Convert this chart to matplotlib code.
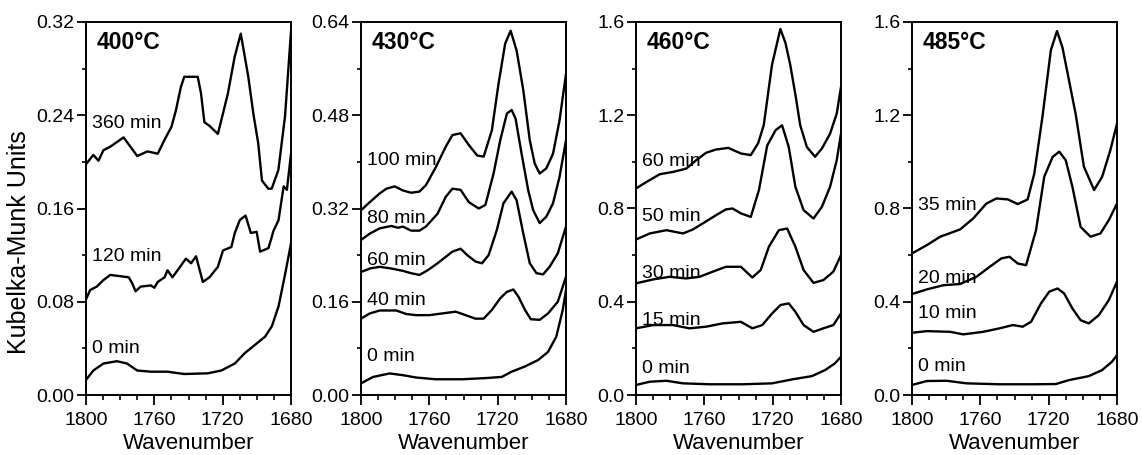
import matplotlib
matplotlib.use("Agg")
import matplotlib.pyplot as plt
from matplotlib.ticker import MultipleLocator, FormatStrFormatter

# ---- 400 C ----
wn_400_360 = [1800, 1795.7, 1792.7, 1789.8, 1785.8, 1781.9, 1778, 1774, 1770, 1764, 1758, 1754, 1750,
              1747.4, 1744.5, 1742.5, 1734.6, 1732.7, 1730.7, 1727.8, 1722.8, 1719.9, 1716.9, 1713,
              1709.4, 1705, 1702, 1699.2, 1697, 1693.3, 1691.3, 1687.4, 1683.5, 1680]
km_400_360 = [0.198, 0.206, 0.201, 0.21, 0.213, 0.217, 0.221, 0.213, 0.205, 0.209, 0.207, 0.219, 0.230,
              0.244, 0.264, 0.273, 0.273, 0.259, 0.234, 0.231, 0.224, 0.241, 0.259, 0.29,
              0.31, 0.273, 0.241, 0.216, 0.184, 0.177, 0.177, 0.193, 0.239, 0.312]
wn_400_120 = [1800, 1797.6, 1793.7, 1789.8, 1785.8, 1775, 1773, 1771, 1768, 1762, 1760, 1758, 1754,
              1752.3, 1749.4, 1746.4, 1741.5, 1738.5, 1735.6, 1731.6, 1727.7, 1722.8, 1719.8, 1714.9,
              1712.9, 1710, 1706.6, 1703.5, 1700.1, 1698.1, 1693.2, 1690.2, 1687.3, 1684.3, 1682.4, 1680]
km_400_120 = [0.082, 0.09, 0.093, 0.0986, 0.103, 0.101, 0.096, 0.089, 0.093, 0.094, 0.092, 0.097, 0.101,
              0.107, 0.101, 0.107, 0.117, 0.113, 0.119, 0.097, 0.101, 0.11, 0.124, 0.127,
              0.139, 0.15, 0.154, 0.139, 0.14, 0.123, 0.126, 0.141, 0.15, 0.179, 0.176, 0.207]
wn_400_0 = [1800, 1795.7, 1789.8, 1781.9, 1776, 1770, 1762.2, 1752.3, 1742.5, 1728.7, 1720.8, 1712.9,
            1707, 1701.1, 1695.2, 1691.2, 1687.3, 1683.4, 1680]
km_400_0 = [0.013, 0.021, 0.027, 0.029, 0.027, 0.021, 0.020, 0.020, 0.018, 0.0186, 0.021, 0.027,
            0.036, 0.043, 0.050, 0.059, 0.076, 0.104, 0.13]

# ---- 430 C ----
wn_430_100 = [1800, 1794.8, 1789, 1785.1, 1780.3, 1775.5, 1770.7, 1765.8, 1762, 1756.2, 1750.4, 1746.5,
              1741.7, 1736.9, 1732, 1728.2, 1723.4, 1719.5, 1715.6, 1712.4, 1708.9, 1705, 1701.2,
              1698.3, 1695.4, 1691.5, 1687.6, 1683.8, 1680]
km_430_100 = [0.317, 0.331, 0.346, 0.354, 0.358, 0.351, 0.347, 0.349, 0.36, 0.391, 0.426, 0.446,
              0.449, 0.429, 0.411, 0.409, 0.454, 0.534, 0.603, 0.625, 0.591, 0.523, 0.437,
              0.397, 0.38, 0.389, 0.414, 0.471, 0.551]
wn_430_80 = [1800, 1794.8, 1789, 1782.2, 1778.4, 1775.5, 1770.7, 1765.8, 1762, 1755.2, 1750.4, 1746.5,
             1741.7, 1736.9, 1731.1, 1727.2, 1722.4, 1718.5, 1714.6, 1711.8, 1709.5, 1706, 1702.1,
             1699.2, 1695.4, 1691.5, 1687.6, 1683.8, 1680]
km_430_80 = [0.266, 0.277, 0.286, 0.29, 0.287, 0.289, 0.282, 0.282, 0.289, 0.311, 0.34, 0.354,
             0.352, 0.331, 0.32, 0.326, 0.38, 0.437, 0.483, 0.489, 0.474, 0.414, 0.351,
             0.317, 0.295, 0.306, 0.329, 0.374, 0.437]
wn_430_60 = [1800, 1794.8, 1789, 1782.2, 1775.5, 1770.7, 1765.8, 1761, 1755.2, 1750.4, 1746.5, 1741.7,
             1737.8, 1733, 1729.2, 1725.3, 1720.5, 1716.6, 1711.8, 1708.9, 1705, 1701.2, 1697.3,
             1693.4, 1689.6, 1684.8, 1680]
km_430_60 = [0.211, 0.217, 0.22, 0.217, 0.213, 0.209, 0.206, 0.214, 0.226, 0.237, 0.246, 0.251,
             0.24, 0.229, 0.226, 0.24, 0.283, 0.329, 0.349, 0.334, 0.277, 0.226, 0.209,
             0.207, 0.22, 0.243, 0.289]
wn_430_40 = [1800, 1794.8, 1789, 1779.3, 1773.6, 1767.8, 1760, 1752.3, 1744.6, 1738.8, 1733, 1728.2,
             1723.4, 1718.5, 1714.6, 1710.8, 1707.9, 1704, 1700.6, 1695.4, 1690.5, 1684.8, 1680]
km_430_40 = [0.131, 0.14, 0.145, 0.145, 0.139, 0.137, 0.137, 0.14, 0.143, 0.137, 0.131, 0.131,
             0.146, 0.166, 0.177, 0.181, 0.169, 0.146, 0.13, 0.129, 0.14, 0.16, 0.203]
wn_430_0 = [1800, 1792.9, 1783.2, 1775.5, 1767.8, 1756.2, 1740.7, 1727.2, 1717.6, 1711.8, 1704, 1696.3,
            1690.5, 1685.7, 1681.9, 1680]
km_430_0 = [0.02, 0.031, 0.037, 0.034, 0.03, 0.027, 0.027, 0.029, 0.031, 0.04, 0.049, 0.06,
            0.074, 0.1, 0.146, 0.18]

# ---- 460 C ----
wn_460_60 = [1800, 1793.8, 1786.1, 1778.3, 1770.6, 1764.8, 1759, 1753.2, 1746, 1738.6, 1732.8, 1728.5,
             1725.2, 1720.4, 1715.5, 1712.5, 1709.7, 1706.5, 1703.9, 1700, 1695.2, 1691.2, 1686.4,
             1682.5, 1680]
km_460_60 = [0.886, 0.914, 0.947, 0.957, 0.971, 1.007, 1.039, 1.053, 1.06, 1.036, 1.029, 1.08,
             1.158, 1.416, 1.570, 1.51, 1.416, 1.28, 1.158, 1.064, 1.022, 1.057, 1.121,
             1.207, 1.321]
wn_460_50 = [1800, 1791.9, 1782.2, 1772.5, 1766.7, 1760.9, 1753.2, 1747.4, 1743.5, 1738.6, 1732.8, 1728,
             1723.2, 1718.3, 1714.5, 1710.6, 1706.7, 1701.9, 1696.1, 1691.2, 1686.4, 1682.5, 1680]
km_460_50 = [0.667, 0.693, 0.707, 0.693, 0.71, 0.736, 0.771, 0.796, 0.8, 0.779, 0.764, 0.88,
             1.07, 1.136, 1.157, 1.064, 0.893, 0.793, 0.757, 0.807, 0.893, 1.007, 1.121]
wn_460_30 = [1800, 1789.9, 1780.3, 1770.6, 1762.8, 1755.1, 1747.4, 1738.6, 1731.9, 1727, 1722.2, 1716.4,
             1711.5, 1706.7, 1701.9, 1696.1, 1690.3, 1684.5, 1680]
km_460_30 = [0.479, 0.496, 0.507, 0.5, 0.507, 0.529, 0.55, 0.55, 0.504, 0.536, 0.636, 0.707,
             0.714, 0.636, 0.536, 0.481, 0.493, 0.529, 0.6]
wn_460_15 = [1800, 1789.9, 1778.3, 1768.7, 1759, 1749.4, 1738.6, 1731.9, 1726.1, 1720.3, 1715.4, 1710.6,
             1706.7, 1701.9, 1696.1, 1690.3, 1684.5, 1680]
km_460_15 = [0.286, 0.3, 0.3, 0.286, 0.293, 0.307, 0.314, 0.286, 0.3, 0.35, 0.386, 0.393,
             0.357, 0.3, 0.271, 0.286, 0.3, 0.35]
wn_460_0 = [1800, 1791.9, 1782.2, 1772.5, 1757, 1737.6, 1720.3, 1708.6, 1697, 1689.3, 1683.5, 1680]
km_460_0 = [0.043, 0.057, 0.061, 0.05, 0.046, 0.046, 0.05, 0.067, 0.081, 0.107, 0.136, 0.164]

# ---- 485 C ----
wn_485_35 = [1800, 1791.3, 1783.5, 1771.9, 1764.2, 1756.5, 1750.6, 1743.9, 1738.1, 1732.3, 1728.4,
             1723.5, 1718.7, 1715.1, 1711.9, 1708.1, 1704.1, 1699.4, 1693.4, 1688.7, 1683.9, 1680]
km_485_35 = [0.607, 0.643, 0.679, 0.71, 0.757, 0.821, 0.843, 0.839, 0.819, 0.839, 0.95,
             1.201, 1.48, 1.561, 1.49, 1.35, 1.201, 0.98, 0.879, 0.936, 1.05, 1.164]
wn_485_20 = [1800, 1791.3, 1781.6, 1771.9, 1762.3, 1754.5, 1747.7, 1742.9, 1738.1, 1733.2, 1727.4,
             1722.6, 1717.7, 1713.8, 1710, 1706.1, 1701.3, 1695.5, 1689.7, 1684.8, 1680]
km_485_20 = [0.433, 0.453, 0.471, 0.476, 0.507, 0.55, 0.586, 0.593, 0.564, 0.557, 0.707,
             0.936, 1.021, 1.044, 1.007, 0.893, 0.721, 0.679, 0.693, 0.75, 0.821]
wn_485_10 = [1800, 1791.3, 1777.7, 1770, 1758.4, 1748.7, 1741, 1735.2, 1730.3, 1724.5, 1719.7,
             1714.8, 1711, 1706.1, 1701.3, 1696.5, 1690.6, 1684.8, 1680]
km_485_10 = [0.267, 0.274, 0.271, 0.26, 0.271, 0.286, 0.3, 0.293, 0.314, 0.393, 0.443,
             0.457, 0.436, 0.371, 0.321, 0.307, 0.343, 0.407, 0.486]
wn_485_0 = [1800, 1791.3, 1779.7, 1768.1, 1748.7, 1729.4, 1715.8, 1708.1, 1696.5, 1688.7, 1682.9, 1680]
km_485_0 = [0.043, 0.06, 0.061, 0.05, 0.046, 0.046, 0.047, 0.064, 0.081, 0.107, 0.143, 0.171]

titles = ["400\u00b0C", "430\u00b0C", "460\u00b0C", "485\u00b0C"]
ymax = [0.32, 0.64, 1.6, 1.6]
ystep = [0.08, 0.16, 0.4, 0.4]
yfmt = ["%.2f", "%.2f", "%.1f", "%.1f"]

curves = [
    [(wn_400_360, km_400_360), (wn_400_120, km_400_120), (wn_400_0, km_400_0)],
    [(wn_430_100, km_430_100), (wn_430_80, km_430_80), (wn_430_60, km_430_60),
     (wn_430_40, km_430_40), (wn_430_0, km_430_0)],
    [(wn_460_60, km_460_60), (wn_460_50, km_460_50), (wn_460_30, km_460_30),
     (wn_460_15, km_460_15), (wn_460_0, km_460_0)],
    [(wn_485_35, km_485_35), (wn_485_20, km_485_20), (wn_485_10, km_485_10), (wn_485_0, km_485_0)],
]
labels = [
    ["360 min", "120 min", "0 min"],
    ["100 min", "80 min", "60 min", "40 min", "0 min"],
    ["60 min", "50 min", "30 min", "15 min", "0 min"],
    ["35 min", "20 min", "10 min", "0 min"],
]
label_y = [
    [0.233, 0.119, 0.040],
    [0.403, 0.303, 0.231, 0.163, 0.066],
    [1.00, 0.764, 0.521, 0.321, 0.114],
    [0.814, 0.50, 0.35, 0.121],
]

plt.rcParams['font.family'] = ['Liberation Sans', 'DejaVu Sans']
plt.rcParams['font.size'] = 14

W, H = 1142, 455
fig = plt.figure(figsize=(W / 100, H / 100), dpi=100)

lefts = [86, 361, 636, 912]
top, bottom, width = 22, 395, 205

for i in range(4):
    ax = fig.add_axes([lefts[i] / W, 1 - bottom / H, width / W, (bottom - top) / H])
    for (x, y) in curves[i]:
        ax.plot(x, y, color="black", lw=1.7, solid_joinstyle="round")
    for lab, ly in zip(labels[i], label_y[i]):
        ax.text(1796.5, ly, lab, fontsize=14, va="center", ha="left")
    ax.text(0.05, 0.945, titles[i], transform=ax.transAxes, fontsize=16.5,
            fontweight="bold", va="center", ha="left")
    ax.set_xlim(1800, 1680)
    ax.set_ylim(0, ymax[i])
    ax.xaxis.set_major_locator(MultipleLocator(40))
    ax.xaxis.set_minor_locator(MultipleLocator(10))
    ax.yaxis.set_major_locator(MultipleLocator(ystep[i]))
    ax.yaxis.set_minor_locator(MultipleLocator(ystep[i] / 2))
    ax.yaxis.set_major_formatter(FormatStrFormatter(yfmt[i]))
    ax.tick_params(axis="x", which="major", length=7, width=1.3, labelsize=14, pad=5)
    ax.tick_params(axis="x", which="minor", length=3.5, width=1.2)
    ax.tick_params(axis="y", which="major", length=6.5, width=1.3, labelsize=14, pad=2)
    ax.tick_params(axis="y", which="minor", length=3, width=1.2)
    for s in ax.spines.values():
        s.set_linewidth(1.4)
    ax.set_xlabel("Wavenumber", fontsize=16, labelpad=3)
    if i == 0:
        ax.set_ylabel("Kubelka-Munk Units", fontsize=18)
        ax.yaxis.set_label_coords(-0.27, 0.41)

plt.savefig("out.png", dpi=100)
